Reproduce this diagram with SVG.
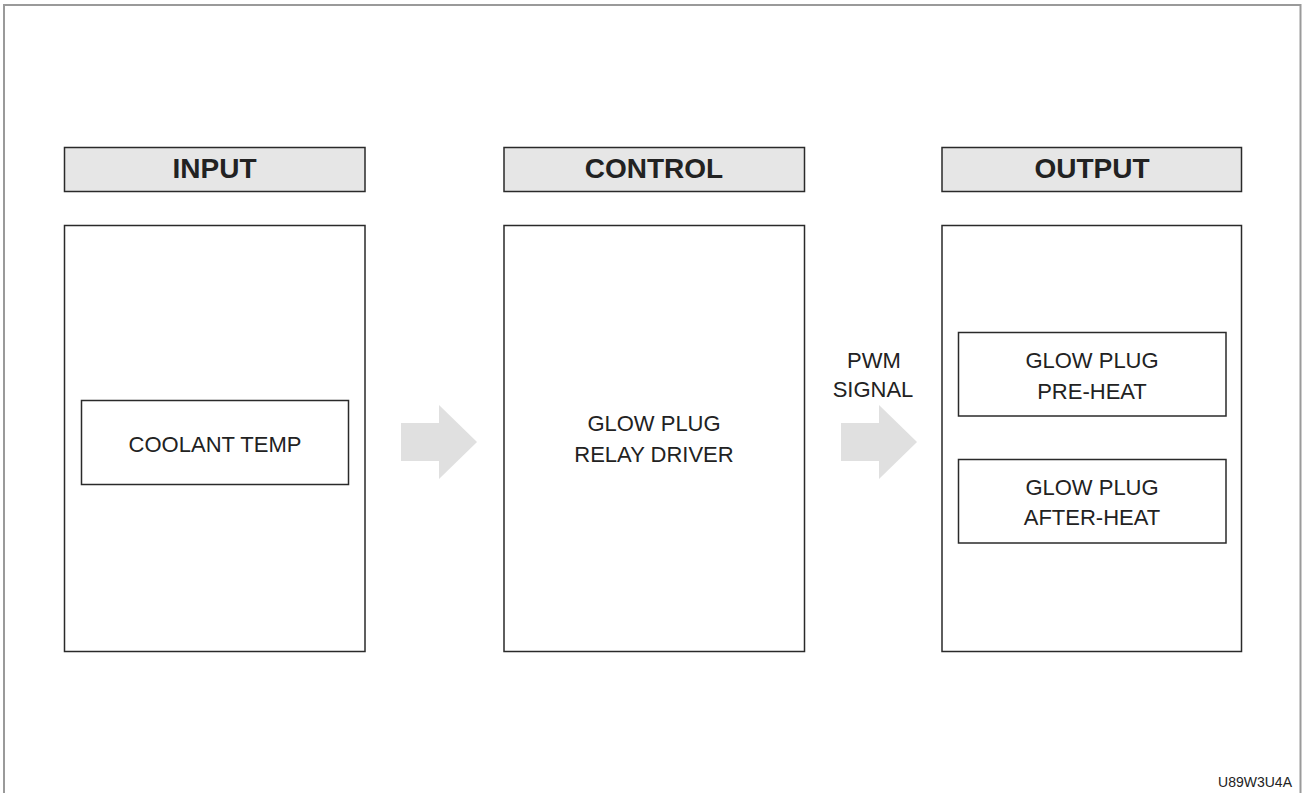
<svg xmlns="http://www.w3.org/2000/svg" width="1304" height="793" viewBox="0 0 1304 793">
<style>
.frame{fill:none;stroke:#9a9a9a;stroke-width:2}
.hdr{fill:#e6e6e6;stroke:#2a2a2a;stroke-width:1.5}
.box{fill:#fff;stroke:#2a2a2a;stroke-width:1.5}
.ht{font-family:"Liberation Sans",Arial,sans-serif;font-weight:bold;font-size:28px;fill:#222;text-anchor:middle}
.t{font-family:"Liberation Sans",Arial,sans-serif;font-size:22px;fill:#222;text-anchor:middle}
.arr{fill:#e0e0e0}
</style>
<rect width="1304" height="793" fill="#fff"/>
<polyline class="frame" points="4,793 4,5 1300.5,5 1300.5,793"/>
<g id="input-header"><rect class="hdr" x="64.5" y="147.5" width="300.5" height="44"/><text class="ht" x="214.5" y="178">INPUT</text></g>
<g id="control-header"><rect class="hdr" x="504" y="147.5" width="300.5" height="44"/><text class="ht" x="654" y="178">CONTROL</text></g>
<g id="output-header"><rect class="hdr" x="942" y="147.5" width="299.5" height="44"/><text class="ht" x="1092" y="178">OUTPUT</text></g>
<g id="input"><rect class="box" x="64.5" y="225.5" width="300.5" height="426"/></g>
<g id="coolant-temp"><rect class="box" x="81.5" y="400.5" width="267" height="84"/><text class="t" x="215" y="452">COOLANT TEMP</text></g>
<g id="control"><rect class="box" x="504" y="225.5" width="300.5" height="426"/><text class="t" x="654" y="431">GLOW PLUG</text><text class="t" x="654" y="462">RELAY DRIVER</text></g>
<g id="output"><rect class="box" x="942" y="225.5" width="299.5" height="426"/></g>
<g id="pre-heat"><rect class="box" x="958.5" y="332.5" width="267.5" height="83.5"/><text class="t" x="1092" y="368">GLOW PLUG</text><text class="t" x="1092" y="399">PRE-HEAT</text></g>
<g id="after-heat"><rect class="box" x="958.5" y="459.5" width="267.5" height="83.5"/><text class="t" x="1092" y="495">GLOW PLUG</text><text class="t" x="1092" y="525">AFTER-HEAT</text></g>
<g id="connectors">
<polygon class="arr" points="401,423 439,423 439,405 477,442 439,479 439,461 401,461"/>
<polygon class="arr" points="841,423 879,423 879,405 917,442 879,479 879,461 841,461"/>
<text class="t" x="874" y="368">PWM</text>
<text class="t" x="873" y="397">SIGNAL</text>
</g>
<text x="1292" y="787" font-family="'Liberation Sans',Arial,sans-serif" font-size="14" fill="#222" text-anchor="end">U89W3U4A</text>
</svg>
